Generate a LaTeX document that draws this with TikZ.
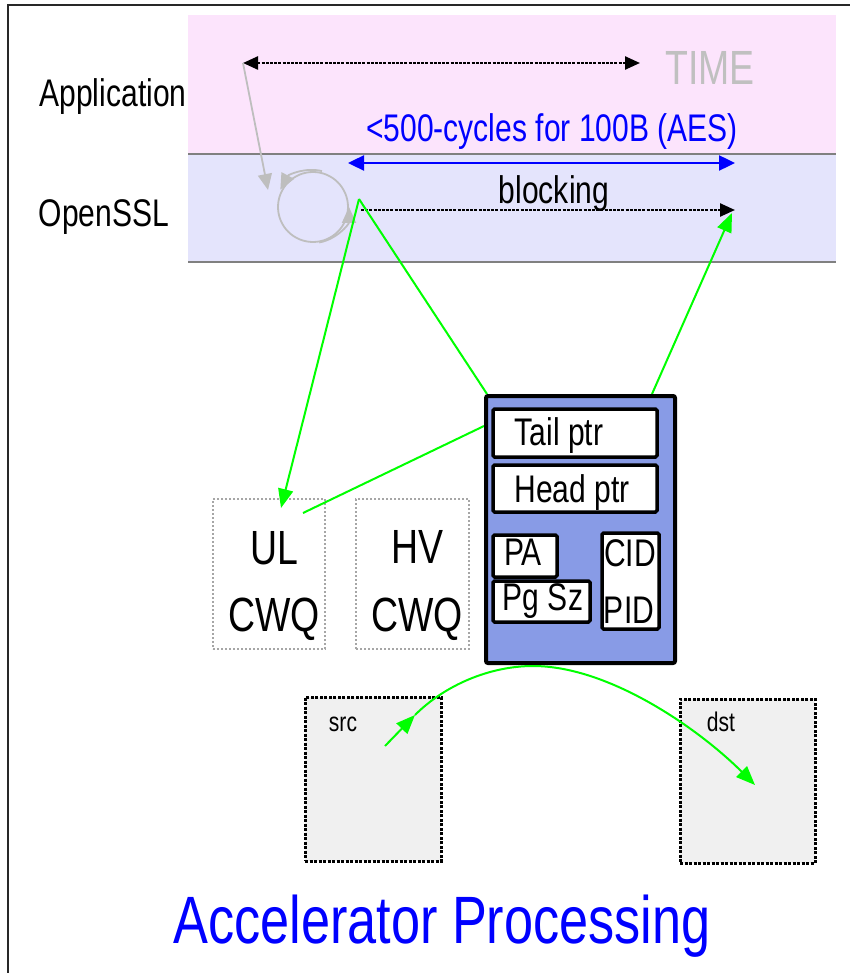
\documentclass[tikz,border=0pt]{standalone}
\usepackage{fontspec}
\setmainfont{Liberation Sans}
\usepackage{graphicx}
\usetikzlibrary{arrows.meta}

\definecolor{bandpink}{RGB}{252,228,252}
\definecolor{bandlav}{RGB}{228,228,252}
\definecolor{sepgray}{RGB}{128,128,128}
\definecolor{timegray}{RGB}{192,192,192}
\definecolor{loopgray}{RGB}{190,190,190}
\definecolor{pureblue}{RGB}{0,0,255}
\definecolor{puregreen}{RGB}{0,255,0}
\definecolor{qblue}{RGB}{136,155,230}
\definecolor{bufgray}{RGB}{240,240,240}
\definecolor{framecol}{RGB}{40,40,40}

\newcommand\narrowtext[1]{\scalebox{0.78}[1]{#1}}

\tikzset{
  lbl/.style={inner sep=0, anchor=base, font=\fontsize{38.5}{40}\selectfont},
  biglbl/.style={lbl, font=\fontsize{48}{50}\selectfont},
  smalllbl/.style={lbl, font=\fontsize{27}{29}\selectfont},
  titlelbl/.style={lbl, font=\fontsize{67}{70}\selectfont, text=pureblue},
  field/.style={draw=black, fill=white, line width=3.5, inner sep=0, rounded corners=1.5},
  cwqbox/.style={draw=black!35, fill=white, line width=1.8, dash pattern=on 2 off 2, inner sep=0},
  bufbox/.style={draw=black, fill=bufgray, line width=3, dash pattern=on 3 off 1.5, inner sep=0},
  flow/.style={draw=puregreen, line width=2},
  flowtip/.style={-{Triangle[length=19,width=15]}},
  timeline/.style={line width=2.4, dash pattern=on 3 off 1.2},
}

\begin{document}
\begin{tikzpicture}[x=1pt, y=-1pt]
\useasboundingbox (0,0) rectangle (850,973);

% outer frame
\draw[line width=2.5, framecol] (8,973) -- (8,5) -- (850,5);

% application and OpenSSL layers
\fill[bandpink] (188,15) rectangle (836,153);
\fill[bandlav] (188,155) rectangle (836,262);
\draw[sepgray, line width=2] (188,154) -- (836,154);
\draw[sepgray, line width=2] (188,262) -- (836,262);

\node[lbl] (app) at (113,107) {\narrowtext{Application}};
\node[lbl] (ssl) at (104,227) {\narrowtext{OpenSSL}};
\node[lbl, font=\fontsize{48}{50}\selectfont, text=timegray] (time) at (710,85) {\narrowtext{TIME}};
\node[lbl, text=pureblue] (cycles) at (552,142) {\narrowtext{<500-cycles for 100B (AES)}};
\node[lbl] (blocking) at (554,204) {\narrowtext{blocking}};

% time axis and latency span
\coordinate (tstart) at (243,63);
\coordinate (tend) at (640,63);
\draw[timeline, {Triangle[length=15,width=13]}-{Triangle[length=15,width=13]}] (tstart) -- (tend);
\coordinate (bstart) at (348,163);
\coordinate (bend) at (735,163);
\draw[pureblue, line width=2.4, {Triangle[length=16,width=15]}-{Triangle[length=16,width=15]}] (bstart) -- (bend);
\coordinate (wstart) at (361,210);
\coordinate (wend) at (735,210);
\draw[timeline, -{Triangle[length=15,width=13]}] (wstart) -- (wend);

% call into the library loop
\coordinate (loopc) at (313,207);
\coordinate (loopin) at (268,190);
\draw[loopgray, line width=1.8, -{Triangle[length=16,width=14]}] (tstart) -- (loopin);
\draw[loopgray, line width=1.8] (loopc) circle[radius=35];
\draw[loopgray, line width=1.8, -{Triangle[length=16,width=14]}]
  ([shift={(284:37)}]loopc) arc[start angle=284, end angle=208, radius=37];
\draw[loopgray, line width=1.8, -{Triangle[length=16,width=14]}]
  ([shift={(80:36)}]loopc) arc[start angle=80, end angle=0, radius=36];

% work queues
\node[cwqbox, minimum width=112, minimum height=150] (ul) at (269,574) {};
\node[cwqbox, minimum width=113, minimum height=150] (hv) at (412.5,574) {};
\node[biglbl] (ultxt) at (274,564) {\narrowtext{UL}};
\node[biglbl] (ulcwq) at (274,631) {\narrowtext{CWQ}};
\node[biglbl] (hvtxt) at (417,563) {\narrowtext{HV}};
\node[biglbl] (hvcwq) at (417,631) {\narrowtext{CWQ}};

% green control flow
\coordinate (sslout) at (359,199);
\coordinate (ulin) at (281,508);
\coordinate (ulout) at (303,513);
\coordinate (accin) at (484,426);
\coordinate (accout) at (652,394);
\coordinate (done) at (732,213);
\draw[flow, flowtip] (sslout) -- (ulin);
\draw[flow] (sslout) -- (487,394);
\draw[flow] (ulout) -- (accin);
\draw[flow, flowtip] (accout) -- (done);

% queue descriptor
\node[draw=black, fill=qblue, line width=4, rounded corners=2, inner sep=0,
      minimum width=189, minimum height=267, anchor=north west] (acc) at (484,394) {};
\node[field, minimum width=164, minimum height=48] (tail) at (575,433) {};
\node[field, minimum width=164, minimum height=47] (head) at (575,488.5) {};
\node[field, minimum width=64, minimum height=42] (pa) at (525,556) {};
\node[field, minimum width=97, minimum height=41] (pgsz) at (541.5,601.5) {};
\node[field, minimum width=57, minimum height=96] (cid) at (630.5,581) {};
\node[lbl] (tailtxt) at (559,445) {\narrowtext{Tail ptr}};
\node[lbl] (headtxt) at (572,502) {\narrowtext{Head ptr}};
\node[lbl] (patxt) at (523,565) {\narrowtext{PA}};
\node[lbl] (pgsztxt) at (543,610) {\narrowtext{Pg Sz}};
\node[lbl] (cidtxt) at (630,566) {\narrowtext{CID}};
\node[lbl] (pidtxt) at (629,623) {\narrowtext{PID}};

% source and destination buffers
\node[bufbox, minimum width=136, minimum height=164] (src) at (373,779) {};
\node[bufbox, minimum width=135, minimum height=164] (dst) at (747.5,781) {};
\node[smalllbl] (srctxt) at (343,731) {\narrowtext{src}};
\node[smalllbl] (dsttxt) at (721,731) {\narrowtext{dst}};
\coordinate (srcpt) at (385,746);
\coordinate (srcmid) at (415,715);
\coordinate (dstpt) at (755,785);
\draw[flow, flowtip] (srcpt) -- (srcmid);
\draw[flow, flowtip] (srcmid) .. controls (445,685) and (490,666) .. (533,666)
  .. controls (610,666) and (700,730) .. (dstpt);

\node[titlelbl] (title) at (442,943) {\narrowtext{Accelerator Processing}};
\end{tikzpicture}
\end{document}
